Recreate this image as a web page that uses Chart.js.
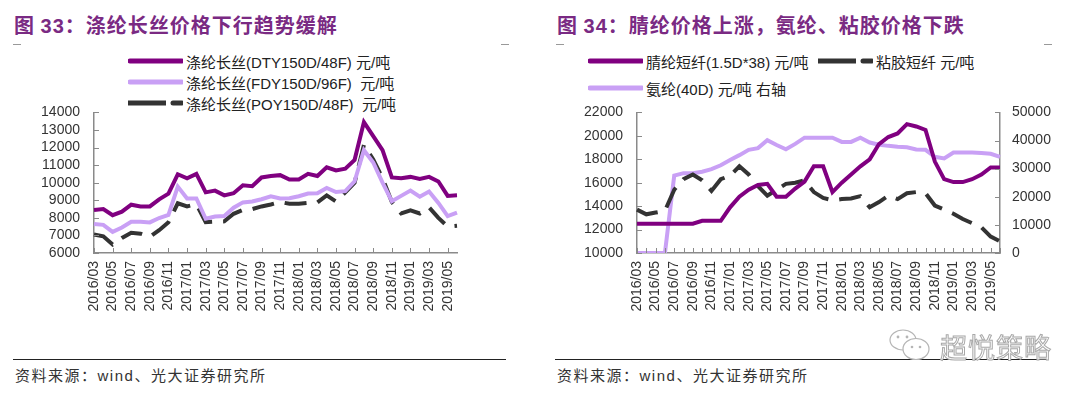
<!DOCTYPE html>
<html lang="zh-CN">
<head>
<meta charset="utf-8">
<title>图33 / 图34 化纤价格</title>
<script src="https://cdn.jsdelivr.net/npm/chart.js@4.4.1/dist/chart.umd.min.js"></script>
<style>
  html, body { margin: 0; padding: 0; background: #fff; }
  body {
    width: 1080px; height: 397px; position: relative; overflow: hidden;
    font-family: 'Liberation Sans', 'Noto Sans CJK SC', sans-serif; color: #222;
  }
  .title {
    position: absolute; top: 11px; font-size: 20px; line-height: 28px; font-weight: bold;
    color: #7a2a83; letter-spacing: 1px; white-space: nowrap;
    font-family: 'Noto Sans CJK SC', 'Liberation Sans', sans-serif;
  }
  .title .num { font-family: 'Liberation Sans', sans-serif; }
  .mark { position: absolute; top: 44px; width: 8px; height: 1px; background: #999; }
  .legend-item { position: absolute; height: 20px; display: flex; align-items: center; white-space: pre; font-size: 15px; }
  .legend-item svg { flex: none; margin-right: 3px; }
  canvas { position: absolute; top: 90px; }
  .rule { position: absolute; top: 359px; height: 1px; background: #222; }
  .source {
    position: absolute; top: 364px; font-size: 15px; line-height: 22px; letter-spacing: 1.5px; color: #333;
    font-family: 'Noto Sans CJK SC', 'Liberation Sans', sans-serif; white-space: nowrap;
  }
  .source .w { font-family: 'Liberation Sans', sans-serif; }
  .wm { position: absolute; left: 886px; top: 326px; display: flex; align-items: center; }
  .wm span {
    font-size: 27px; color: #fff; -webkit-text-stroke: 1px #a8a8a8; letter-spacing: 1px;
    font-family: 'Noto Sans CJK SC', sans-serif; margin-left: 4px;
  }
</style>
</head>
<body>

<div class="title" style="left:14px">图 <span class="num">33</span>：涤纶长丝价格下行趋势缓解</div>
<div class="title" style="left:557px">图 <span class="num">34</span>：腈纶价格上涨，氨纶、粘胶价格下跌</div>
<div class="mark" style="left:13px"></div>
<div class="mark" style="left:501px"></div>
<div class="mark" style="left:556px"></div>
<div class="mark" style="left:1044px"></div>

<div id="legendLeft"></div>
<div id="legendRight"></div>

<canvas id="leftChart" width="540" height="240" style="left:0"></canvas>
<canvas id="rightChart" width="540" height="240" style="left:540px"></canvas>

<div class="rule" style="left:13px; width:493px"></div>
<div class="rule" style="left:555px; width:491px"></div>
<div class="source" style="left:15px">资料来源：<span class="w">wind</span>、光大证券研究所</div>
<div class="source" style="left:557px">资料来源：<span class="w">wind</span>、光大证券研究所</div>

<div class="wm">
  <svg width="50" height="40" viewBox="0 0 50 40">
    <ellipse cx="17" cy="14" rx="13" ry="10" fill="#fff" stroke="#b5b5b5" stroke-width="1.2"/>
    <ellipse cx="30" cy="23" rx="13" ry="10.5" fill="#fff" stroke="#b5b5b5" stroke-width="1.2"/>
    <circle cx="12" cy="11" r="1.4" fill="#b5b5b5"/><circle cx="21" cy="11" r="1.4" fill="#b5b5b5"/>
    <circle cx="26" cy="21" r="1.3" fill="#b5b5b5"/><circle cx="34" cy="21" r="1.3" fill="#b5b5b5"/>
  </svg>
  <span>超悦策略</span>
</div>

<script>
// ─── Data ────────────────────────────────────────────────────────────────────

const months = [
  '2016/03','2016/04','2016/05','2016/06','2016/07','2016/08','2016/09','2016/10','2016/11','2016/12',
  '2017/01','2017/02','2017/03','2017/04','2017/05','2017/06','2017/07','2017/08','2017/09','2017/10','2017/11','2017/12',
  '2018/01','2018/02','2018/03','2018/04','2018/05','2018/06','2018/07','2018/08','2018/09','2018/10','2018/11','2018/12',
  '2019/01','2019/02','2019/03','2019/04','2019/05','2019/06'
];

// 图33 涤纶长丝 元/吨
const dty = [
  8450, 8500, 8150, 8350, 8750, 8650, 8650, 9050, 9380, 10480,
  10250, 10500, 9450, 9550, 9280, 9400, 9850, 9800, 10300, 10380, 10430, 10180,
  10180, 10500, 10380, 10880, 10700, 10800, 11300, 13450, 12650, 11850, 10300, 10250,
  10330, 10220, 10330, 10070, 9250, 9280
];
const fdy = [
  7650, 7600, 7200, 7450, 7780, 7780, 7740, 7990, 8170, 9780,
  9100, 9100, 7950, 8080, 8100, 8580, 8880, 8930, 9060, 9230, 9100, 9120,
  9230, 9380, 9400, 9700, 9470, 9520, 10080, 11850, 11150, 10000, 8950, 9250,
  9550, 9200, 9500, 8850, 8100, 8300
];
const poy = [
  7050, 6950, 6480, 6850, 7150, 7100, 6920, 7300, 7750, 8830,
  8650, 8780, 7760, 7790, 7800, 8230, 8450, 8500, 8650, 8760, 8900, 8800,
  8800, 8850, 8880, 9280, 8930, 9450, 10000, 12150, 11320, 10250, 8900, 8250,
  8420, 8250, 8600, 8000, 7500, 7550
];

// 图34 腈纶 / 粘胶 (左轴) 与 氨纶 (右轴) 元/吨
const acrylic = [
  12500, 12500, 12500, 12500, 12500, 12500, 12500, 12750, 12750, 12750,
  13900, 14800, 15400, 15800, 15900, 14800, 14800, 15500, 16100, 17400, 17400, 15200,
  16000, 16700, 17400, 18000, 19300, 19900, 20200, 21000, 20800, 20500, 17800, 16300,
  16050, 16050, 16300, 16700, 17300, 17300
];
const viscose = [
  13700, 13300, 13450, 13600, 15400, 16300, 16700, 16200, 15300, 16300,
  16600, 17400, 16700, 15700, 14900, 15400, 15900, 16000, 16200, 15200, 14700, 14500,
  14600, 14650, 14850, 13900, 14350, 14900, 14600, 15100, 15200, 15100, 14050, 13700,
  13350, 12900, 12550, 12200, 11400, 11000
];
const spandex = [
  0, 0, 0, 0, 27500, 28400, 28400, 28900, 29800, 31200,
  33100, 34800, 36700, 37300, 40100, 38400, 36900, 38800, 41000, 41000, 41000, 41000,
  39500, 39500, 41000, 39300, 38500, 38100, 37800, 37600, 36800, 36700, 34200, 33600,
  35700, 35700, 35700, 35600, 35300, 34200
];

const leftNames = ['涤纶长丝(DTY150D/48F) 元/吨', '涤纶长丝(FDY150D/96F)  元/吨', '涤纶长丝(POY150D/48F)  元/吨'];
const rightNames = ['腈纶短纤(1.5D*38) 元/吨', '粘胶短纤 元/吨', '氨纶(40D) 元/吨 右轴'];

// ─── Styles ──────────────────────────────────────────────────────────────────

const PURPLE = '#800080';
const LILAC = '#c9a0f5';
const DARK = '#333333';
const AXIS = '#8a8a8a';
const DASH = [22, 11];

Chart.defaults.font.family = "'Liberation Sans', 'Noto Sans CJK SC', sans-serif";
Chart.defaults.font.size = 14;
Chart.defaults.color = '#333';

// ticks drawn on the inside of each axis, like the source charts
const innerTicks = {
  id: 'innerTicks',
  afterDraw(chart, args, opts) {
    const ctx = chart.ctx;
    ctx.save();
    ctx.strokeStyle = AXIS;
    ctx.lineWidth = 1;
    ctx.beginPath();
    Object.values(chart.scales).forEach(scale => {
      scale.ticks.forEach((t, i) => {
        if (scale.axis === 'x') {
          if (i % opts.xEvery) return;
          const x = Math.round(scale.getPixelForTick(i)) + 0.5;
          ctx.moveTo(x, scale.top);
          ctx.lineTo(x, scale.top - 5);
        } else {
          const y = Math.round(scale.getPixelForTick(i)) + 0.5;
          if (scale.position === 'left') {
            ctx.moveTo(scale.right, y);
            ctx.lineTo(scale.right + 5, y);
          } else {
            ctx.moveTo(scale.left, y);
            ctx.lineTo(scale.left - 5, y);
          }
        }
      });
    });
    ctx.stroke();
    ctx.restore();
  }
};

function xAxis() {
  return {
    type: 'category',
    offset: false,
    grid: { display: false, drawTicks: false },
    border: { display: true, color: AXIS, width: 1.5 },
    ticks: {
      autoSkip: false, minRotation: 90, maxRotation: 90, padding: 8, color: '#333',
      callback: (v, i) => (i % 2 === 0 ? months[i] : '')
    },
    afterFit: s => { s.height = 77; }
  };
}

function yAxis(position, min, max, step, width, pad) {
  return {
    position, min, max,
    grid: { display: false, drawTicks: false },
    border: { display: true, color: AXIS, width: 1.5 },
    ticks: { stepSize: step, autoSkip: false, padding: pad, color: '#333', callback: v => String(v) },
    afterFit: s => { s.width = width; }
  };
}

function line(label, data, color, extra = {}) {
  return {
    label, data,
    borderColor: color, backgroundColor: color,
    borderWidth: 4, pointRadius: 0, tension: 0, fill: false,
    ...extra
  };
}

// ─── Legends ─────────────────────────────────────────────────────────────────

function legendItem(host, left, top, name, color, dashed) {
  const el = document.createElement('div');
  el.className = 'legend-item';
  el.style.left = left + 'px';
  el.style.top = (top - 10) + 'px';
  const stroke = dashed
    ? `<line x1="0" y1="10" x2="38" y2="10" stroke="${color}" stroke-width="5"/>
       <line x1="45" y1="10" x2="54" y2="10" stroke="${color}" stroke-width="5" stroke-linecap="round"/>`
    : `<line x1="2" y1="10" x2="54" y2="10" stroke="${color}" stroke-width="5" stroke-linecap="round"/>`;
  el.innerHTML = `<svg width="55" height="20">${stroke}</svg><span>${name}</span>`;
  document.getElementById(host).appendChild(el);
}

legendItem('legendLeft', 128, 61, leftNames[0], PURPLE, false);
legendItem('legendLeft', 128, 82, leftNames[1], LILAC, false);
legendItem('legendLeft', 128, 103, leftNames[2], DARK, true);

legendItem('legendRight', 588, 61, rightNames[0], PURPLE, false);
legendItem('legendRight', 818, 61, rightNames[1], DARK, true);
legendItem('legendRight', 588, 88, rightNames[2], LILAC, false);

// ─── Charts ──────────────────────────────────────────────────────────────────

new Chart(document.getElementById('leftChart'), {
  type: 'line',
  data: {
    labels: months,
    datasets: [
      line(leftNames[2], poy, DARK, { borderDash: DASH, order: 3 }),
      line(leftNames[1], fdy, LILAC, { order: 2 }),
      line(leftNames[0], dty, PURPLE, { order: 1 })
    ]
  },
  options: {
    responsive: false,
    animation: false,
    layout: { padding: { top: 13, right: 83, bottom: 0, left: 0 } },
    plugins: { legend: { display: false }, tooltip: { enabled: false }, innerTicks: { xEvery: 2 } },
    scales: {
      x: xAxis(),
      y: yAxis('left', 6000, 14000, 1000, 94, 14)
    }
  },
  plugins: [innerTicks]
});

new Chart(document.getElementById('rightChart'), {
  type: 'line',
  data: {
    labels: months,
    datasets: [
      line(rightNames[2], spandex, LILAC, { yAxisID: 'y1', order: 3 }),
      line(rightNames[1], viscose, DARK, { borderDash: DASH, order: 2 }),
      line(rightNames[0], acrylic, PURPLE, { order: 1 })
    ]
  },
  options: {
    responsive: false,
    animation: false,
    layout: { padding: { top: 15, right: 0, bottom: 0, left: 0 } },
    plugins: { legend: { display: false }, tooltip: { enabled: false }, innerTicks: { xEvery: 1 } },
    scales: {
      x: xAxis(),
      y: yAxis('left', 10000, 22000, 2000, 97, 14),
      y1: yAxis('right', 0, 50000, 10000, 80, 12)
    }
  },
  plugins: [innerTicks]
});
</script>
</body>
</html>
